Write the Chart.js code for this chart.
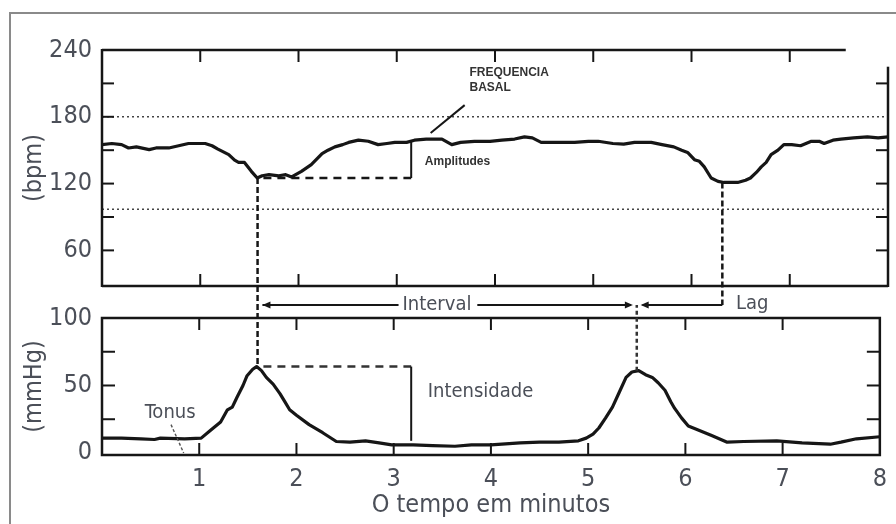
<!DOCTYPE html>
<html>
<head>
<meta charset="utf-8">
<script src="https://cdn.jsdelivr.net/npm/chart.js@4.4.1/dist/chart.umd.min.js"></script>
<style>
  html, body { margin: 0; padding: 0; background: #fff; }
  #wrap { position: relative; width: 896px; height: 524px; overflow: hidden; }
  #wrap canvas { position: absolute; left: 0; top: 0; }
</style>
</head>
<body>
<div id="wrap">
  <canvas id="fhrChart" width="896" height="524"></canvas>
  <canvas id="ucChart" width="896" height="524"></canvas>
</div>
<script>
// Time axis (minutes)
const timeMin = 0;
const timeMax = 8;
const timeTickLabels = [1, 2, 3, 4, 5, 6, 7, 8];
const timeTickMarks = [1, 2, 3, 4, 5, 6, 7];

// Fetal heart rate (bpm)
const fhrTimes = [0.00, 0.10, 0.20, 0.27, 0.35, 0.48, 0.55, 0.68, 0.78, 0.88, 1.05, 1.12, 1.18, 1.29, 1.35, 1.39, 1.45, 1.52, 1.58, 1.63,
  1.70, 1.80, 1.87, 1.93, 2.03, 2.13, 2.24, 2.30, 2.37, 2.45, 2.51, 2.61, 2.71, 2.81, 2.90, 2.98, 3.10, 3.18, 3.30, 3.46,
  3.56, 3.65, 3.79, 3.95, 4.07, 4.20, 4.30, 4.38, 4.47, 4.60, 4.81, 4.95, 5.05, 5.20, 5.31, 5.42, 5.59, 5.70, 5.82, 5.90,
  5.96, 6.03, 6.08, 6.13, 6.20, 6.27, 6.33, 6.47, 6.55, 6.60, 6.66, 6.71, 6.76, 6.81, 6.88, 6.94, 7.02, 7.11, 7.22, 7.30,
  7.35, 7.44, 7.52, 7.65, 7.79, 7.90, 8.00];
const fhrValues = [155, 156, 155, 152, 153, 150.5, 152, 152, 154, 156, 156, 154, 151, 146, 141, 139, 139, 131, 125, 127,
  128, 127, 128, 126, 131, 137, 147, 150, 153, 155, 157, 159, 158, 155, 156, 157, 157, 159, 160, 160,
  155, 157, 158, 158, 159, 160, 162, 161, 157, 157, 157, 158, 158, 156, 155.5, 157, 157, 155, 153, 150,
  148, 141.5, 140, 135, 125, 122, 121, 121, 123, 125, 130, 135, 139, 146, 150, 155, 155, 154, 158, 158,
  156, 159, 160, 161, 162, 161, 162];
const bpmMin = 28;
const bpmMax = 240;
const bpmTickLabels = [60, 120, 180, 240];
const bpmTickMarks = [60, 90, 120, 150, 180, 210];
const bpmDottedLines = [180, 97];

// Uterine pressure (mmHg)
const ucTimes = [0.00, 0.20, 0.40, 0.54, 0.60, 0.85, 1.02, 1.12, 1.22, 1.29, 1.34, 1.39, 1.45, 1.49, 1.55, 1.59, 1.64, 1.69, 1.76, 1.83,
  1.88, 1.93, 2.00, 2.13, 2.27, 2.41, 2.55, 2.71, 2.85, 2.98, 3.20, 3.40, 3.63, 3.80, 4.00, 4.30, 4.50, 4.70, 4.90, 4.98,
  5.05, 5.11, 5.18, 5.25, 5.32, 5.39, 5.45, 5.52, 5.59, 5.66, 5.72, 5.79, 5.85, 5.89, 5.96, 6.03, 6.10, 6.27, 6.43, 6.60,
  6.94, 7.20, 7.49, 7.60, 7.76, 8.00];
const ucValues = [11, 11, 10.5, 10, 11, 10.5, 11, 17, 23, 32, 34, 41.5, 50, 57, 62, 64, 61, 56, 51, 44,
  38, 32, 28, 21, 15, 8.5, 8, 9, 7.5, 6, 6, 5.5, 5, 6, 6, 7.5, 8, 8, 9, 11,
  14, 18.5, 26, 34, 45, 56, 60, 61, 58, 56, 52, 46.5, 38, 33, 26, 20, 18, 13, 8, 8.5,
  9, 7.5, 6.5, 8, 10.5, 12];
const mmHgMin = -1.5;
const mmHgMax = 100;
const mmHgTickLabels = [0, 50, 100];
const mmHgTickMarks = [25, 50, 75];

// Annotation anchors
const nadir1 = { t: 1.6, bpm: 125 };
const peak1 = { t: 1.6, mmHg: 64 };
const nadir2 = { t: 6.38, bpm: 121 };
const peak2 = { t: 5.5, mmHg: 61 };
const amplitudeT = 3.18;
const amplitudeTop = 159;
const intensityBottom = 9;

const FONT = "'Liberation Sans Narrow', 'DejaVu Sans Condensed', 'Roboto', sans-serif";
const ink = '#161616';
const textColor = '#4b4f58';

function line(ctx, x1, y1, x2, y2, width, dash, color) {
    ctx.save();
    ctx.strokeStyle = color || ink;
    ctx.lineWidth = width;
    ctx.setLineDash(dash || []);
    ctx.beginPath();
    ctx.moveTo(x1, y1);
    ctx.lineTo(x2, y2);
    ctx.stroke();
    ctx.restore();
}

function arrowHead(ctx, x, y, dir) {
    ctx.save();
    ctx.fillStyle = ink;
    ctx.beginPath();
    ctx.moveTo(x, y);
    ctx.lineTo(x - dir * 8, y - 3.5);
    ctx.lineTo(x - dir * 8, y + 3.5);
    ctx.closePath();
    ctx.fill();
    ctx.restore();
}

function label(ctx, text, x, y, font, color, align) {
    ctx.save();
    ctx.font = font;
    ctx.fillStyle = color;
    ctx.textAlign = align || 'left';
    ctx.textBaseline = 'middle';
    ctx.fillText(text, x, y);
    ctx.restore();
}

function yAxis(min, max, labels, title) {
    return {
        min: min,
        max: max,
        afterFit: s => { s.width = 90; },
        afterBuildTicks: s => { s.ticks = labels.map(v => ({ value: v })); },
        grid: { display: false, drawTicks: false },
        border: { display: false },
        ticks: { color: textColor, font: { family: FONT, size: 25 }, padding: 10 },
        title: { display: true, text: title, color: textColor, font: { family: FONT, size: 25 }, padding: { top: 7, bottom: 0 } }
    };
}

// Top panel: frame, inner ticks, dotted reference lines
const fhrFrame = {
    id: 'fhrFrame',
    beforeDatasetsDraw(chart) {
        const { ctx, chartArea: a, scales: { y } } = chart;
        bpmDottedLines.forEach(v => {
            const py = y.getPixelForValue(v);
            line(ctx, a.left, py, a.right, py, 1.5, [2, 3], '#444');
        });
    },
    afterDraw(chart) {
        const { ctx, chartArea: a, scales: { x, y } } = chart;
        line(ctx, a.left, a.top - 1, a.left, a.bottom + 1, 2.5);
        line(ctx, a.left, a.bottom, a.right, a.bottom, 2.5);
        line(ctx, a.left, a.top, x.getPixelForValue(7.57), a.top, 2.5);
        line(ctx, a.right, y.getPixelForValue(225), a.right, a.bottom + 1, 2.5);
        timeTickMarks.forEach(t => {
            const px = x.getPixelForValue(t);
            line(ctx, px, a.top, px, a.top + 12, 2);
            line(ctx, px, a.bottom, px, a.bottom - 12, 2);
        });
        bpmTickMarks.forEach(v => {
            const py = y.getPixelForValue(v);
            line(ctx, a.left, py, a.left + 12, py, 2);
            if (v !== 180) line(ctx, a.right, py, a.right - 12, py, 2);
        });
    }
};

const fhrChart = new Chart(document.getElementById('fhrChart'), {
    type: 'line',
    data: {
        datasets: [{
            data: fhrTimes.map((t, i) => ({ x: t, y: fhrValues[i] })),
            borderColor: ink,
            borderWidth: 3.2,
            borderJoinStyle: 'round',
            pointRadius: 0,
            tension: 0
        }]
    },
    options: {
        responsive: false,
        animation: false,
        layout: { padding: { top: 50, left: 12, right: 8, bottom: 238 } },
        plugins: { legend: { display: false }, tooltip: { enabled: false } },
        scales: {
            x: { type: 'linear', min: timeMin, max: timeMax, display: false },
            y: yAxis(bpmMin, bpmMax, bpmTickLabels, '(bpm)')
        }
    },
    plugins: [fhrFrame]
});

// Bottom panel: frame, ticks, and the annotations linking both panels
const ucFrame = {
    id: 'ucFrame',
    afterDraw(chart) {
        const { ctx, chartArea: a, scales: { x, y } } = chart;
        const top = fhrChart.scales;
        const tx = t => x.getPixelForValue(t);

        // figure border
        line(ctx, 10, 13, 896, 13, 2, null, '#8a8a8a');
        line(ctx, 10, 12, 10, 524, 2, null, '#8a8a8a');

        // panel frame
        ctx.save();
        ctx.strokeStyle = ink;
        ctx.lineWidth = 2.5;
        ctx.strokeRect(a.left, a.top, a.right - a.left, a.bottom - a.top);
        ctx.restore();
        timeTickMarks.forEach(t => {
            line(ctx, tx(t), a.top, tx(t), a.top + 12, 2);
            line(ctx, tx(t), a.bottom, tx(t), a.bottom - 12, 2);
        });
        mmHgTickMarks.forEach(v => {
            const py = y.getPixelForValue(v);
            line(ctx, a.left, py, a.left + 13, py, 2);
            line(ctx, a.right, py, a.right - 13, py, 2);
        });

        const gapY = a.top - 13;
        const smallBold = "bold 12px 'Liberation Sans', sans-serif";

        // first deceleration / contraction
        line(ctx, tx(nadir1.t), top.y.getPixelForValue(nadir1.bpm), tx(peak1.t), y.getPixelForValue(peak1.mmHg), 2.5, [6, 3]);
        line(ctx, tx(nadir1.t + 0.06), top.y.getPixelForValue(nadir1.bpm), tx(amplitudeT), top.y.getPixelForValue(nadir1.bpm), 2.5, [8, 6]);
        line(ctx, tx(amplitudeT), top.y.getPixelForValue(amplitudeTop), tx(amplitudeT), top.y.getPixelForValue(nadir1.bpm), 2);
        label(ctx, 'Amplitudes', tx(3.32), top.y.getPixelForValue(140), smallBold, '#333');
        label(ctx, 'FREQUENCIA', tx(3.78), top.y.getPixelForValue(219.5), smallBold, '#333');
        label(ctx, 'BASAL', tx(3.78), top.y.getPixelForValue(206.5), smallBold, '#333');
        line(ctx, tx(3.38), top.y.getPixelForValue(165.5), tx(3.73), top.y.getPixelForValue(190.5), 2);

        line(ctx, tx(peak1.t + 0.06), y.getPixelForValue(peak1.mmHg), tx(amplitudeT), y.getPixelForValue(peak1.mmHg), 2.5, [8, 6], '#333');
        line(ctx, tx(amplitudeT), y.getPixelForValue(peak1.mmHg), tx(amplitudeT), y.getPixelForValue(intensityBottom), 2);
        label(ctx, 'Intensidade', tx(3.35), y.getPixelForValue(45), '20px ' + FONT, textColor);

        // tonus
        label(ctx, 'Tonus', tx(0.44), y.getPixelForValue(30), '20px ' + FONT, textColor);
        line(ctx, tx(0.71), y.getPixelForValue(21), tx(0.84), y.getPixelForValue(0), 1.4, [3, 2], '#555');

        // interval and lag row
        line(ctx, tx(1.65), gapY, tx(3.05), gapY, 2);
        arrowHead(ctx, tx(1.65), gapY, -1);
        label(ctx, 'Interval', tx(3.445), gapY, '20px ' + FONT, textColor, 'center');
        line(ctx, tx(3.86), gapY, tx(5.44), gapY, 2);
        arrowHead(ctx, tx(5.46), gapY, 1);
        line(ctx, tx(5.56), gapY, tx(nadir2.t), gapY, 2);
        arrowHead(ctx, tx(5.54), gapY, -1);
        label(ctx, 'Lag', tx(6.52), gapY - 1, '20px ' + FONT, textColor);

        // second contraction / deceleration
        line(ctx, tx(peak2.t), y.getPixelForValue(peak2.mmHg), tx(peak2.t), gapY, 2.5, [4, 3], '#333');
        line(ctx, tx(nadir2.t), top.y.getPixelForValue(nadir2.bpm), tx(nadir2.t), gapY, 2.5, [6, 3]);
    }
};

new Chart(document.getElementById('ucChart'), {
    type: 'line',
    data: {
        datasets: [{
            data: ucTimes.map((t, i) => ({ x: t, y: ucValues[i] })),
            borderColor: ink,
            borderWidth: 3.2,
            borderJoinStyle: 'round',
            pointRadius: 0,
            tension: 0
        }]
    },
    options: {
        responsive: false,
        animation: false,
        layout: { padding: { top: 318, left: 12, right: 8, bottom: 0 } },
        plugins: { legend: { display: false }, tooltip: { enabled: false } },
        scales: {
            x: {
                type: 'linear',
                min: timeMin,
                max: timeMax,
                afterFit: s => { s.height = 69; },
                afterBuildTicks: s => { s.ticks = timeTickLabels.map(v => ({ value: v })); },
                grid: { display: false, drawTicks: false },
                border: { display: false },
                ticks: { color: textColor, font: { family: FONT, size: 25 }, padding: 9, maxRotation: 0, autoSkip: false },
                title: { display: true, text: 'O tempo em minutos', color: textColor, font: { family: FONT, size: 25 }, padding: { top: 0, bottom: 4 } }
            },
            y: yAxis(mmHgMin, mmHgMax, mmHgTickLabels, '(mmHg)')
        }
    },
    plugins: [ucFrame]
});
</script>
</body>
</html>
